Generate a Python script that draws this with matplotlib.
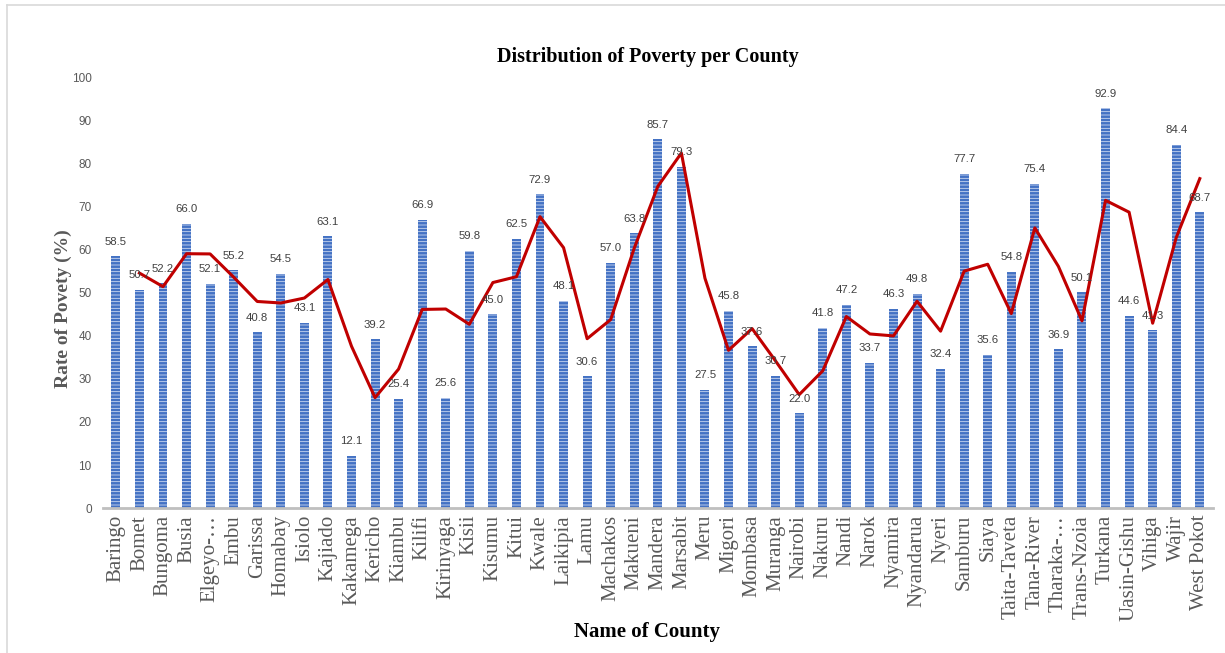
import matplotlib.pyplot as plt
from matplotlib.lines import Line2D

counties = ["Baringo", "Bomet", "Bungoma", "Busia", "Elgeyo-\u2026", "Embu", "Garissa",
            "Homabay", "Isiolo", "Kajiado", "Kakamega", "Kericho", "Kiambu", "Kilifi",
            "Kirinyaga", "Kisii", "Kisumu", "Kitui", "Kwale", "Laikipia", "Lamu",
            "Machakos", "Makueni", "Mandera", "Marsabit", "Meru", "Migori", "Mombasa",
            "Muranga", "Nairobi", "Nakuru", "Nandi", "Narok", "Nyamira", "Nyandarua",
            "Nyeri", "Samburu", "Siaya", "Taita-Taveta", "Tana-River", "Tharaka-\u2026",
            "Trans-Nzoia", "Turkana", "Uasin-Gishu", "Vihiga", "Wajir", "West Pokot"]

poverty = [58.5, 50.7, 52.2, 66.0, 52.1, 55.2, 40.8, 54.5, 43.1, 63.1, 12.1, 39.2,
           25.4, 66.9, 25.6, 59.8, 45.0, 62.5, 72.9, 48.1, 30.6, 57.0, 63.8, 85.7,
           79.3, 27.5, 45.8, 37.6, 30.7, 22.0, 41.8, 47.2, 33.7, 46.3, 49.8, 32.4,
           77.7, 35.6, 54.8, 75.4, 36.9, 50.1, 92.9, 44.6, 41.3, 84.4, 68.7]

# red trend line (2-period moving average), starts at Bomet
trend = [54.6, 51.45, 59.1, 59.05, 53.65, 48.0, 47.65, 48.8, 53.1, 37.6, 25.65,
         32.3, 46.15, 46.25, 42.7, 52.4, 53.75, 67.7, 60.5, 39.35, 43.8, 60.4,
         74.75, 82.5, 53.4, 36.65, 41.7, 34.15, 26.35, 31.9, 44.5, 40.45, 40.0,
         48.05, 41.1, 55.05, 56.65, 45.2, 65.1, 56.15, 43.5, 71.5, 68.75, 42.95,
         62.85, 76.55]

plt.rcParams['hatch.linewidth'] = 0.55

fig = plt.figure(figsize=(12.25, 6.53), dpi=100)
ax = fig.add_axes([0.084, 0.222, 0.906, 0.659])

x = list(range(len(counties)))
ax.bar(x, poverty, width=0.38, color='#4472C4', edgecolor='#D6E0F3',
       linewidth=0, hatch='-----', zorder=2)
ax.plot(x[1:], trend, color='#C00000', linewidth=2.2, zorder=3)

for xi, v in zip(x, poverty):
    ax.annotate(f"{v:.1f}", (xi, v), xytext=(0, 7), textcoords='offset points',
                ha='center', va='bottom', fontsize=8.2, color='#404040',
                family='Liberation Sans', zorder=4)

ax.set_xlim(-0.55, len(counties) - 0.45)
ax.set_ylim(0, 100)
ax.set_yticks(range(0, 101, 10))
ax.tick_params(axis='y', length=0, labelsize=8.5, labelcolor='#595959', pad=8)
ax.set_xticks(x)
ax.set_xticklabels(counties, rotation=90, family='Liberation Serif', fontsize=15,
                   color='#595959')
ax.tick_params(axis='x', length=0, pad=5)
for lbl in ax.get_yticklabels():
    lbl.set_family('Liberation Sans')

for side in ['top', 'right', 'left']:
    ax.spines[side].set_visible(False)
ax.spines['bottom'].set_color('#BFBFBF')
ax.spines['bottom'].set_linewidth(2)

fig.text(0.529, 0.912, "Distribution of Poverty per County", ha='center', va='center',
         family='Liberation Serif', fontweight='bold', fontsize=14.5, color='black')
fig.text(0.052, 0.527, "Rate of Povety (%)", ha='center', va='center', rotation=90,
         family='Liberation Serif', fontweight='bold', fontsize=14, color='#595959')
fig.text(0.528, 0.032, "Name of County", ha='center', va='center',
         family='Liberation Serif', fontweight='bold', fontsize=15, color='black')

# light frame lines at the top and left edge of the page
fig.add_artist(Line2D([7 / 1225, 1], [1 - 5 / 653, 1 - 5 / 653], color='#D9D9D9',
                      linewidth=1.2, transform=fig.transFigure))
fig.add_artist(Line2D([7 / 1225, 7 / 1225], [0, 1 - 5 / 653], color='#D9D9D9',
                      linewidth=1.2, transform=fig.transFigure))

fig.savefig('out.png', dpi=100)
